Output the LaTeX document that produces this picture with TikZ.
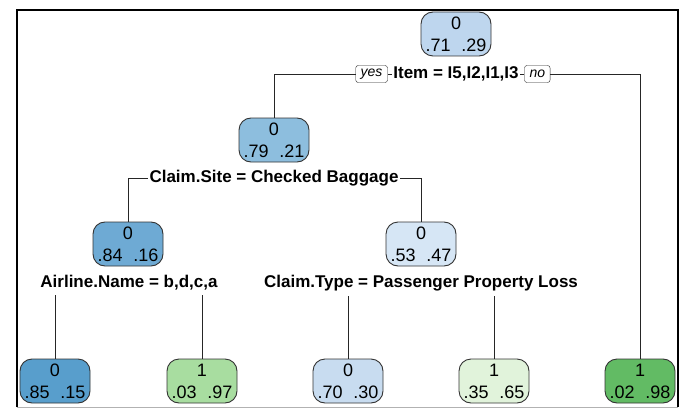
\documentclass[tikz,border=0pt]{standalone}
\usepackage{fontspec}
\setmainfont{Liberation Sans}
\usepackage{tikz}

\definecolor{buA}{RGB}{190,214,238}
\definecolor{buB}{RGB}{141,190,222}
\definecolor{buC}{RGB}{110,170,212}
\definecolor{buD}{RGB}{214,230,245}
\definecolor{buE}{RGB}{88,158,204}
\definecolor{buF}{RGB}{200,220,240}
\definecolor{gnA}{RGB}{168,221,160}
\definecolor{gnB}{RGB}{225,243,219}
\definecolor{gnC}{RGB}{98,187,100}

\tikzset{
  probbox/.style={draw=black!80, line width=0.9pt, rounded corners=12pt, minimum width=70pt,
    minimum height=44pt, align=center, inner sep=0pt, font=\fontsize{18}{22}\selectfont},
  splitlab/.style={fill=white, inner sep=1.5pt, font=\bfseries\fontsize{17}{20}\selectfont},
  yesno/.style={draw=black!85, fill=white, rounded corners=2.5pt, inner xsep=5pt, inner ysep=1pt,
    minimum height=17pt, font=\itshape\fontsize{14}{16}\selectfont},
  conn/.style={draw=black!85, line width=0.9pt}
}

\newcommand{\pr}[3]{#1\\#2\hspace{.6em}#3}

\begin{document}
\begin{tikzpicture}[x=1pt,y=-1pt]
	\useasboundingbox (0,0) rectangle (695,409);
	\draw[line width=1.4pt] (17,407) -- (17,10) -- (678,10) -- (678,407);
	\draw[black!30, line width=1pt] (17,407.5) -- (678,407.5);

	\node[probbox, fill=buA] at (456,34) (root) {\pr{0}{.71}{.29}};
	\node[probbox, fill=buB] at (274,140) (site) {\pr{0}{.79}{.21}};
	\node[probbox, fill=buC] at (128,244) (air) {\pr{0}{.84}{.16}};
	\node[probbox, fill=buD] at (421,244) (type) {\pr{0}{.53}{.47}};
	\node[probbox, fill=buE] at (55,381) (lfA) {\pr{0}{.85}{.15}};
	\node[probbox, fill=gnA] at (202,381) (lfB) {\pr{1}{.03}{.97}};
	\node[probbox, fill=buF] at (348,381) (lfC) {\pr{0}{.70}{.30}};
	\node[probbox, fill=gnB] at (494,381) (lfD) {\pr{1}{.35}{.65}};
	\node[probbox, fill=gnC] at (640,381) (lfE) {\pr{1}{.02}{.98}};

	\node[splitlab] at (456,74) (qItem) {Item = I5,I2,I1,I3};
	\node[yesno, anchor=east] at ([xshift=-4pt]qItem.west) (yes) {yes};
	\node[yesno, anchor=west] at ([xshift=4pt]qItem.east) (no) {no};
	\node[splitlab] at (274,178) (qSite) {Claim.Site = Checked Baggage};
	\node[splitlab] at (129,283) (qAir) {Airline.Name = b,d,c,a};
	\node[splitlab] at (421,283) (qType) {Claim.Type = Passenger Property Loss};

	\path[conn] (yes.west) -| (site.north);
	\path[conn] (yes.east) -- (qItem.west);
	\path[conn] (qItem.east) -- (no.west);
	\path[conn] (no.east) -| (lfE.north);
	\path[conn] (qSite.west) -| (air.north);
	\path[conn] (qSite.east) -| (type.north);
	\path[conn] (lfA.north) -- ([yshift=-3pt]lfA.north |- qAir.south);
	\path[conn] (lfB.north) -- ([yshift=-3pt]lfB.north |- qAir.south);
	\path[conn] (lfC.north) -- ([yshift=-3pt]lfC.north |- qType.south);
	\path[conn] (lfD.north) -- ([yshift=-3pt]lfD.north |- qType.south);
\end{tikzpicture}
\end{document}
